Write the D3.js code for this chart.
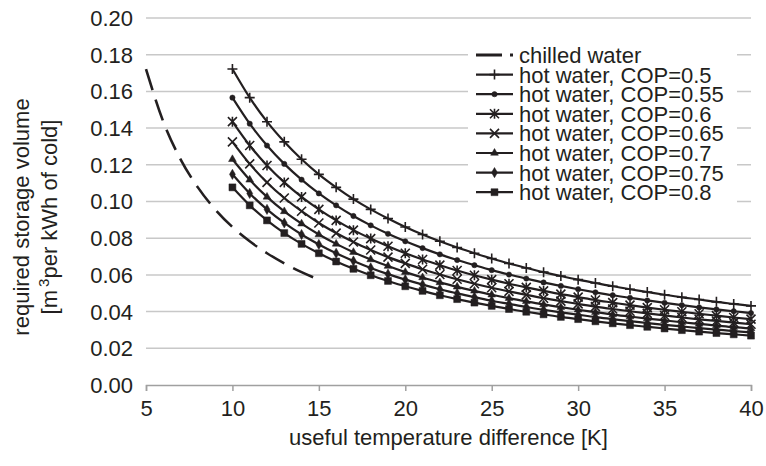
<!DOCTYPE html>
<html>
<head>
  <meta charset="utf-8">
  <style>
  body {
    margin: 0;
    background: #ffffff;
    font-family: "Liberation Sans", Arial, sans-serif;
  }
  svg text {
    fill: #231f20;
  }
  .grid line {
    stroke: #c8c8c8;
    stroke-width: 1.5px;
  }
  .series {
    fill: none;
    stroke: #231f20;
    stroke-width: 2.2px;
  }
  </style>
</head>
<body>
  <div id="chart"></div>

  <script src="https://d3js.org/d3.v7.min.js"></script>
  <script>
  // x values: useful temperature difference [K]
  var chilledX = [5, 6, 7, 8, 9, 10, 11, 12, 13, 14, 15];
  var hotX = [10, 11, 12, 13, 14, 15, 16, 17, 18, 19, 20, 21, 22, 23, 24, 25,
              26, 27, 28, 29, 30, 31, 32, 33, 34, 35, 36, 37, 38, 39, 40];

  // required storage volume [m3 per kWh of cold]
  var chilled = [0.1722, 0.1435, 0.1230, 0.1077, 0.0957, 0.0861, 0.0783, 0.0718, 0.0663, 0.0615, 0.0574];
  var cop050 = [0.1722, 0.1566, 0.1435, 0.1325, 0.1230, 0.1148, 0.1077, 0.1013, 0.0957, 0.0907, 0.0861,
                0.0820, 0.0783, 0.0749, 0.0718, 0.0689, 0.0662, 0.0638, 0.0615, 0.0594, 0.0574,
                0.0556, 0.0538, 0.0522, 0.0507, 0.0492, 0.0478, 0.0466, 0.0453, 0.0442, 0.0431];
  var cop055 = [0.1566, 0.1424, 0.1305, 0.1205, 0.1119, 0.1044, 0.0979, 0.0921, 0.0870, 0.0824, 0.0783,
                0.0746, 0.0712, 0.0681, 0.0653, 0.0626, 0.0602, 0.0580, 0.0559, 0.0540, 0.0522,
                0.0505, 0.0489, 0.0475, 0.0461, 0.0448, 0.0435, 0.0423, 0.0412, 0.0402, 0.0392];
  var cop060 = [0.1435, 0.1305, 0.1196, 0.1104, 0.1025, 0.0957, 0.0897, 0.0844, 0.0798, 0.0756, 0.0718,
                0.0684, 0.0653, 0.0624, 0.0598, 0.0574, 0.0552, 0.0532, 0.0513, 0.0495, 0.0479,
                0.0463, 0.0449, 0.0435, 0.0422, 0.0410, 0.0399, 0.0388, 0.0378, 0.0368, 0.0359];
  var cop065 = [0.1325, 0.1205, 0.1104, 0.1019, 0.0947, 0.0883, 0.0828, 0.0779, 0.0736, 0.0697, 0.0663,
                0.0631, 0.0602, 0.0576, 0.0552, 0.0530, 0.0510, 0.0491, 0.0473, 0.0457, 0.0442,
                0.0427, 0.0414, 0.0402, 0.0390, 0.0379, 0.0368, 0.0358, 0.0349, 0.0340, 0.0331];
  var cop070 = [0.1230, 0.1118, 0.1025, 0.0946, 0.0879, 0.0820, 0.0769, 0.0724, 0.0684, 0.0648, 0.0615,
                0.0586, 0.0559, 0.0535, 0.0513, 0.0492, 0.0473, 0.0456, 0.0439, 0.0424, 0.0410,
                0.0397, 0.0384, 0.0373, 0.0362, 0.0352, 0.0342, 0.0333, 0.0324, 0.0315, 0.0308];
  var cop075 = [0.1148, 0.1044, 0.0957, 0.0883, 0.0820, 0.0766, 0.0718, 0.0676, 0.0638, 0.0604, 0.0574,
                0.0547, 0.0522, 0.0499, 0.0479, 0.0459, 0.0442, 0.0425, 0.0410, 0.0396, 0.0383,
                0.0370, 0.0359, 0.0348, 0.0338, 0.0328, 0.0319, 0.0310, 0.0302, 0.0294, 0.0287];
  var cop080 = [0.1077, 0.0979, 0.0897, 0.0828, 0.0769, 0.0718, 0.0673, 0.0633, 0.0598, 0.0567, 0.0538,
                0.0513, 0.0489, 0.0468, 0.0449, 0.0431, 0.0414, 0.0399, 0.0385, 0.0371, 0.0359,
                0.0347, 0.0336, 0.0326, 0.0317, 0.0308, 0.0299, 0.0291, 0.0283, 0.0276, 0.0269];

  var seriesNames = ["chilled water", "hot water, COP=0.5", "hot water, COP=0.55", "hot water, COP=0.6",
                     "hot water, COP=0.65", "hot water, COP=0.7", "hot water, COP=0.75", "hot water, COP=0.8"];
  var markerTypes = ["none", "plus", "circle", "asterisk", "x", "triangle", "diamond", "square"];

  var xTicks = [5, 10, 15, 20, 25, 30, 35, 40];
  var yTicks = [0, 0.02, 0.04, 0.06, 0.08, 0.10, 0.12, 0.14, 0.16, 0.18, 0.20];

  var W = 766, H = 466;
  var margin = {top: 18, right: 15, bottom: 81, left: 146};
  var width = W - margin.left - margin.right, height = H - margin.top - margin.bottom;

  var svg = d3.select("#chart").append("svg")
      .attr("width", W)
      .attr("height", H)
      .style("display", "block");

  var g = svg.append("g")
      .attr("transform", "translate(" + margin.left + "," + margin.top + ")");

  var x = d3.scaleLinear().domain([5, 40]).range([0, width]);
  var y = d3.scaleLinear().domain([0, 0.20]).range([height, 0]);

  // horizontal gridlines
  g.append("g")
      .attr("class", "grid")
    .selectAll("line")
    .data(yTicks.slice(1))
    .enter().append("line")
      .attr("x1", 0)
      .attr("x2", width)
      .attr("y1", function(d){ return y(d); })
      .attr("y2", function(d){ return y(d); });

  // y tick labels
  g.append("g")
    .selectAll("text")
    .data(yTicks)
    .enter().append("text")
      .attr("x", -13)
      .attr("y", function(d){ return y(d); })
      .attr("dy", "0.36em")
      .attr("text-anchor", "end")
      .style("font-size", "22px")
      .text(function(d){ return d.toFixed(2); });

  // x axis
  var xAxis = d3.axisBottom(x).tickValues(xTicks).tickSize(6).tickPadding(9);
  var xg = g.append("g")
      .attr("transform", "translate(0," + height + ")")
      .call(xAxis);
  xg.select(".domain").attr("stroke", "#a0a0a0").attr("stroke-width", 1.5);
  xg.selectAll(".tick line").attr("stroke", "#a0a0a0").attr("stroke-width", 1.5);
  xg.selectAll(".tick text")
      .style("font-size", "22px")
      .style("font-family", "'Liberation Sans', Arial, sans-serif")
      .attr("fill", "#231f20");

  // axis titles
  svg.append("text")
      .attr("x", margin.left + width / 2)
      .attr("y", 445)
      .attr("text-anchor", "middle")
      .style("font-size", "22px")
      .text("useful temperature difference [K]");

  var yt = svg.append("g")
      .attr("transform", "translate(0,217) rotate(-90)");
  yt.append("text")
      .attr("x", 0)
      .attr("y", 29)
      .attr("text-anchor", "middle")
      .style("font-size", "22px")
      .text("required storage volume");
  var yt2 = yt.append("text")
      .attr("x", 0)
      .attr("y", 57)
      .attr("text-anchor", "middle")
      .style("font-size", "22px");
  yt2.append("tspan").text("[m");
  yt2.append("tspan").attr("dx", 3).attr("dy", -8).style("font-size", "15px").text("3");
  yt2.append("tspan").attr("dy", 8).text("per kWh of cold]");

  // markers
  function markerPath(type) {
    if (type === "plus") return "M-5,0H5M0,-5V5";
    if (type === "x") return "M-4.5,-4.5L4.5,4.5M-4.5,4.5L4.5,-4.5";
    if (type === "asterisk") return "M-4.5,-4.5L4.5,4.5M-4.5,4.5L4.5,-4.5M0,-5V5";
    if (type === "circle") return d3.symbol().type(d3.symbolCircle).size(22)();
    if (type === "triangle") return d3.symbol().type(d3.symbolTriangle).size(26)();
    if (type === "diamond") return d3.symbol().type(d3.symbolDiamond).size(30)();
    if (type === "square") return d3.symbol().type(d3.symbolSquare).size(48)();
    return null;
  }
  function markerFilled(type) {
    return ["circle", "triangle", "diamond", "square"].indexOf(type) >= 0;
  }

  var series = [
    {name: seriesNames[0], xs: chilledX, ys: chilled, marker: markerTypes[0], dashed: true},
    {name: seriesNames[1], xs: hotX, ys: cop050, marker: markerTypes[1]},
    {name: seriesNames[2], xs: hotX, ys: cop055, marker: markerTypes[2]},
    {name: seriesNames[3], xs: hotX, ys: cop060, marker: markerTypes[3]},
    {name: seriesNames[4], xs: hotX, ys: cop065, marker: markerTypes[4]},
    {name: seriesNames[5], xs: hotX, ys: cop070, marker: markerTypes[5]},
    {name: seriesNames[6], xs: hotX, ys: cop075, marker: markerTypes[6]},
    {name: seriesNames[7], xs: hotX, ys: cop080, marker: markerTypes[7]}
  ];

  var line = d3.line()
      .x(function(d){ return x(d[0]); })
      .y(function(d){ return y(d[1]); })
      .curve(d3.curveMonotoneX);

  series.slice().reverse().forEach(function(s) {
    var pts = s.xs.map(function(v, i){ return [v, s.ys[i]]; });
    g.append("path")
        .datum(pts)
        .attr("class", "series")
        .attr("d", line)
        .style("stroke-width", s.dashed ? "2.6px" : "2.2px")
        .style("stroke-dasharray", s.dashed ? "22,10" : null);

    if (s.marker !== "none") {
      g.append("g").selectAll("path")
        .data(pts)
        .enter().append("path")
          .attr("transform", function(d){ return "translate(" + x(d[0]) + "," + y(d[1]) + ")"; })
          .attr("d", markerPath(s.marker))
          .attr("fill", markerFilled(s.marker) ? "#231f20" : "none")
          .attr("stroke", "#231f20")
          .attr("stroke-width", markerFilled(s.marker) ? 0.5 : 1.6);
    }
  });

  // legend
  var legend = svg.append("g");
  legend.append("rect")
      .attr("x", 468)
      .attr("y", 42)
      .attr("width", 269)
      .attr("height", 162)
      .attr("fill", "#ffffff");

  var row = legend.selectAll("g.item")
      .data(series)
    .enter().append("g")
      .attr("class", "item")
      .attr("transform", function(d, i){ return "translate(476," + (55 + i * 19.6) + ")"; });

  row.append("line")
      .attr("x1", 0)
      .attr("x2", 37)
      .attr("stroke", "#231f20")
      .attr("stroke-width", function(d){ return d.dashed ? 3 : 2.2; })
      .attr("stroke-dasharray", function(d){ return d.dashed ? "26,8" : null; });

  row.filter(function(d){ return d.marker !== "none"; })
    .append("path")
      .attr("transform", "translate(18.5,0)")
      .attr("d", function(d){ return markerPath(d.marker); })
      .attr("fill", function(d){ return markerFilled(d.marker) ? "#231f20" : "none"; })
      .attr("stroke", "#231f20")
      .attr("stroke-width", function(d){ return markerFilled(d.marker) ? 0.5 : 1.6; });

  row.append("text")
      .attr("x", 43)
      .attr("dy", "0.36em")
      .style("font-size", "22px")
      .text(function(d){ return d.name; });
  </script>
</body>
</html>
